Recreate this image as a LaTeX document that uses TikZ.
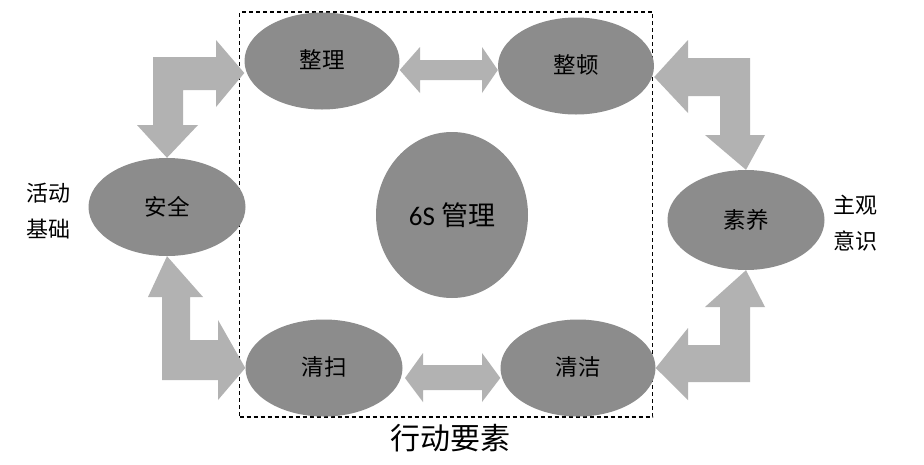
\documentclass[tikz,border=0pt]{standalone}
\usepackage{fontspec}
\setmainfont{Noto Sans CJK SC}
\newfontfamily\latinfont{Carlito}
\usetikzlibrary{shapes.geometric}
\definecolor{ellgray}{HTML}{8C8C8C}
\definecolor{arrgray}{HTML}{B2B2B2}
\tikzset{
  elnode/.style={ellipse, fill=ellgray, inner sep=0pt, font=\fontsize{22.5}{26}\selectfont},
  blockarrow/.style={fill=arrgray, draw=none},
  sidetext/.style={font=\fontsize{22}{25}\selectfont, align=center}
}
\begin{document}
\begin{tikzpicture}[x=1pt,y=-1pt]
\useasboundingbox (0,0) rectangle (924,464);
\fill[white] (0,0) rectangle (924,464);
% dashed frame
\node[draw=black, dash pattern=on 4pt off 3pt, line width=1.1pt, minimum width=413pt, minimum height=405pt, inner sep=0pt] (frame) at (446,214.5) {};
% ellipses
\node[elnode, minimum width=155pt, minimum height=97pt] (zl) at (322,61) {\raisebox{3pt}{整理}};
\node[elnode, minimum width=156pt, minimum height=97pt] (zd) at (576,66) {\raisebox{3pt}{整顿}};
\node[elnode, minimum width=157pt, minimum height=98pt] (aq) at (167,207) {\raisebox{3pt}{安全}};
\node[elnode, minimum width=157pt, minimum height=100pt] (sy) at (746,220) {\raisebox{3pt}{素养}};
\node[elnode, minimum width=157pt, minimum height=97pt] (qs) at (324,368) {\raisebox{3pt}{清扫}};
\node[elnode, minimum width=155pt, minimum height=97pt] (qj) at (578,368) {\raisebox{3pt}{清洁}};
\node[elnode, minimum width=152pt, minimum height=166pt, font=\fontsize{27}{30}\selectfont] (gl) at (452,215) {{\latinfont 6S} 管理};
% side texts
\node[sidetext] (left) at (49,211) {活动\\[11pt]基础};
\node[sidetext] (right) at (855,223) {主观\\[11pt]意识};
\node[font=\fontsize{30}{34}\selectfont] (bottom) at (450,438) {行动要素};
% top-left bent arrow (to 整理 and 安全)
\fill[blockarrow] (153,57) -- (216,57) -- (216,40) -- (zl.west |- 0,73) -- (216,107) -- (216,90)
  -- (183,90) -- (183,125) -- (198,125) -- (aq.north) -- (137,125) -- (153,125) -- cycle;
% bottom-left bent arrow
\fill[blockarrow] (162,380) -- (162,297) -- (148,297) -- (aq.south) -- (203,297) -- (190,297)
  -- (190,340) -- (218,340) -- (218,320) -- (qs.west) -- (218,400) -- (218,380) -- cycle;
% top-right bent arrow
\fill[blockarrow] (750,58) -- (688,58) -- (688,40) -- (zd.east |- 0,77) -- (688,113) -- (688,96)
  -- (720,96) -- (720,135) -- (705,135) -- (sy.north) -- (765,135) -- (750,135) -- cycle;
% bottom-right bent arrow
\fill[blockarrow] (750,382) -- (688,382) -- (688,400) -- (qj.east) -- (688,328) -- (688,345)
  -- (720,345) -- (720,307) -- (705,307) -- (sy.south) -- (765,307) -- (750,307) -- cycle;
% top double arrow
\fill[blockarrow] (zl.east |- 0,70) -- (420,47) -- (420,60) -- (482,60) -- (482,47) -- (zd.west |- 0,70)
  -- (482,93) -- (482,80) -- (420,80) -- (420,93) -- cycle;
% bottom double arrow
\fill[blockarrow] (405,378) -- (423,353) -- (423,365) -- (482,365) -- (482,353) -- (qj.west |- 0,378)
  -- (482,402) -- (482,390) -- (423,390) -- (423,402) -- cycle;
\end{tikzpicture}
\end{document}
